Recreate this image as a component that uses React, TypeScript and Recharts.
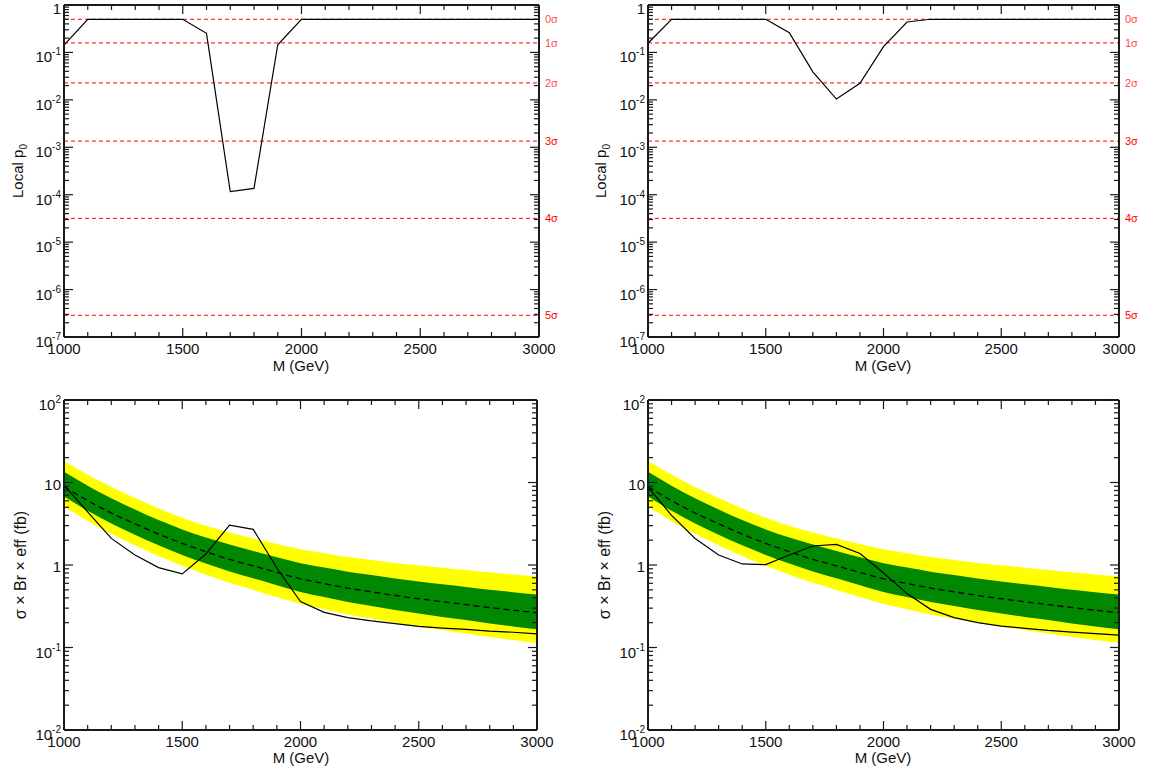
import React from 'react';
import { ComposedChart, Line, Area, XAxis, YAxis, ReferenceLine } from 'recharts';

// ---------- data ----------
const masses = [1000, 1100, 1200, 1300, 1400, 1500, 1600, 1700, 1800, 1900, 2000, 2100, 2200, 2300, 2400, 2500, 2600, 2700, 2800, 2900, 3000];

const p0Left = [0.143, 0.5, 0.5, 0.5, 0.5, 0.5, 0.253, 1.16e-4, 1.36e-4, 0.145, 0.5, 0.5, 0.5, 0.5, 0.5, 0.5, 0.5, 0.5, 0.5, 0.5, 0.5];
const p0Right = [0.156, 0.5, 0.5, 0.5, 0.5, 0.5, 0.261, 0.039, 0.0104, 0.0223, 0.132, 0.438, 0.5, 0.5, 0.5, 0.5, 0.5, 0.5, 0.5, 0.5, 0.5];

const expected = [8.89, 6.03, 4.27, 3.16, 2.37, 1.83, 1.45, 1.17, 0.977, 0.813, 0.681, 0.596, 0.525, 0.473, 0.427, 0.39, 0.359, 0.331, 0.305, 0.283, 0.264];
const green1Up = [13.46, 9.16, 6.45, 4.7, 3.5, 2.7, 2.15, 1.77, 1.48, 1.24, 1.05, 0.93, 0.83, 0.755, 0.687, 0.63, 0.584, 0.542, 0.502, 0.468, 0.439];
const green1Down = [6.75, 4.53, 3.18, 2.33, 1.73, 1.32, 1.04, 0.836, 0.689, 0.568, 0.471, 0.408, 0.356, 0.318, 0.284, 0.258, 0.235, 0.215, 0.196, 0.18, 0.167];
const yellow2Up = [18.2, 12.4, 8.8, 6.5, 4.85, 3.75, 3.0, 2.48, 2.1, 1.8, 1.55, 1.39, 1.25, 1.15, 1.06, 0.99, 0.928, 0.87, 0.816, 0.768, 0.728];
const yellow2Down = [5.12, 3.42, 2.38, 1.74, 1.29, 0.976, 0.76, 0.609, 0.499, 0.409, 0.337, 0.291, 0.252, 0.224, 0.199, 0.179, 0.163, 0.148, 0.134, 0.123, 0.113];

const observedLeft = [9.3, 4.4, 2.1, 1.32, 0.93, 0.78, 1.36, 3.05, 2.7, 0.92, 0.36, 0.267, 0.23, 0.21, 0.195, 0.18, 0.172, 0.166, 0.158, 0.153, 0.146];
const observedRight = [8.8, 4.0, 2.1, 1.32, 1.03, 1.01, 1.32, 1.7, 1.78, 1.38, 0.8, 0.45, 0.29, 0.23, 0.2, 0.182, 0.171, 0.161, 0.154, 0.147, 0.141];

const sigmaLevels = [0.5, 0.1587, 0.02275, 0.00135, 3.17e-5, 2.87e-7];
const sigmaLabels = ['0σ', '1σ', '2σ', '3σ', '4σ', '5σ'];

const xTicks = masses;
const xMajorStep = 500;
const topDecades = [-7, -6, -5, -4, -3, -2, -1, 0];
const bottomDecades = [-2, -1, 0, 1, 2];
const minorMult = [2, 3, 4, 5, 6, 7, 8, 9];

// ---------- helpers ----------
const FONT = '"Liberation Sans", Arial, Helvetica, sans-serif';
const AXIS = '#1a1a1a';

function logTicks(decades: number[]) {
  const t: number[] = [];
  decades.forEach((e, i) => {
    t.push(Number(`1e${e}`));
    if (i < decades.length - 1) minorMult.forEach((m) => t.push(Number(`${m}e${e}`)));
  });
  return t;
}
const topYTicks = logTicks(topDecades);
const bottomYTicks = logTicks(bottomDecades);

function YTick(props: any) {
  const { x, y, payload, side, labels } = props;
  const v = Number(payload.value);
  const e = Math.log10(v);
  const re = Math.round(e);
  const major = Math.abs(e - re) < 1e-6;
  const len = major ? 9 : 5;
  const dir = side === 'left' ? 1 : -1;
  return (
    <g>
      <line x1={x} x2={x + dir * len} y1={y} y2={y} stroke={AXIS} strokeWidth={1.2} />
      {labels && major && (re === 0 || re === 1 ? (
        <text x={x - 3} y={Math.max(y + 7, 14)} textAnchor="end" fontSize={15} fill="#111" fontFamily={FONT}>
          {re === 0 ? '1' : '10'}
        </text>
      ) : (
        <text x={x - 3} y={y + 10} textAnchor="end" fontSize={15} fill="#111" fontFamily={FONT}>
          10<tspan fontSize={10} dy={-7}>{String(re)}</tspan>
        </text>
      ))}
    </g>
  );
}

function XTick(props: any) {
  const { x, y, payload, side, labels } = props;
  const v = Number(payload.value);
  const major = v % xMajorStep === 0;
  const len = major ? 9 : 5;
  const dir = side === 'bottom' ? -1 : 1;
  return (
    <g>
      <line x1={x} x2={x} y1={y} y2={y + dir * len} stroke={AXIS} strokeWidth={1.2} />
      {labels && major && (
        <text x={x} y={y + 17} textAnchor="middle" fontSize={15} fill="#111" fontFamily={FONT}>
          {v}
        </text>
      )}
    </g>
  );
}

const axisLine = { stroke: AXIS, strokeWidth: 2 };

function Title(props: any) {
  const { x, y, rotate, children, size = 15 } = props;
  return (
    <div
      style={{
        position: 'absolute',
        left: x,
        top: y,
        transform: `translate(-50%,-50%)${rotate ? ' rotate(-90deg)' : ''}`,
        fontSize: size,
        fontFamily: FONT,
        whiteSpace: 'nowrap',
        lineHeight: 1,
        color: '#111',
      }}
    >
      {children}
    </div>
  );
}

function renderAxes(yDomain: [number, number], yTicks: number[], topH: number) {
  return [
    <XAxis
      key="xb"
      dataKey="m"
      type="number"
      domain={[1000, 3000]}
      ticks={xTicks}
      interval={0}
      height={30}
      tickSize={0}
      tickMargin={0}
      tickLine={false}
      axisLine={axisLine}
      tick={(p: any) => <XTick {...p} side="bottom" labels />}
    />,
    <XAxis
      key="xt"
      xAxisId="top"
      orientation="top"
      dataKey="m"
      type="number"
      domain={[1000, 3000]}
      ticks={xTicks}
      interval={0}
      height={topH}
      tickSize={0}
      tickMargin={0}
      tickLine={false}
      axisLine={axisLine}
      tick={(p: any) => <XTick {...p} side="top" />}
    />,
    <YAxis
      key="yl"
      scale="log"
      type="number"
      domain={yDomain}
      ticks={yTicks}
      interval={0}
      width={60}
      tickSize={0}
      tickMargin={0}
      tickLine={false}
      axisLine={axisLine}
      allowDataOverflow
      tick={(p: any) => <YTick {...p} side="left" labels />}
    />,
    <YAxis
      key="yr"
      yAxisId="right"
      orientation="right"
      scale="log"
      type="number"
      domain={yDomain}
      ticks={yTicks}
      interval={0}
      width={10}
      tickSize={0}
      tickMargin={0}
      tickLine={false}
      axisLine={axisLine}
      allowDataOverflow
      tick={(p: any) => <YTick {...p} side="right" />}
    />,
  ];
}

function P0Panel(props: { values: number[]; margin: any; width: number }) {
  const rows = masses.map((m, i) => ({ m, p: props.values[i] }));
  return (
    <ComposedChart width={props.width} height={385} data={rows} margin={props.margin}>
      {renderAxes([1e-7, 1], topYTicks, 5)}
      {sigmaLevels.map((s, i) => (
        <ReferenceLine
          key={i}
          y={s}
          stroke="#ff0000"
          strokeWidth={1}
          strokeDasharray="4 3"
          label={{ value: sigmaLabels[i], position: 'right', fill: i < 3 ? '#ff4a4a' : '#ff0000', fontSize: 11, offset: 6, fontFamily: FONT }}
        />
      ))}
      <Line dataKey="p" type="linear" stroke="#000" strokeWidth={1.2} dot={false} isAnimationActive={false} />
    </ComposedChart>
  );
}

function LimitPanel(props: { observed: number[]; margin: any; width: number }) {
  const rows = masses.map((m, i) => ({
    m,
    y2: [yellow2Down[i], yellow2Up[i]],
    g1: [green1Down[i], green1Up[i]],
    exp: expected[i],
    obs: props.observed[i],
  }));
  return (
    <ComposedChart width={props.width} height={386} data={rows} margin={props.margin}>
      {renderAxes([0.01, 100], bottomYTicks, 10)}
      <Area dataKey="y2" type="monotone" stroke="none" fill="#ffff00" fillOpacity={1} isAnimationActive={false} />
      <Area dataKey="g1" type="monotone" stroke="none" fill="#008800" fillOpacity={1} isAnimationActive={false} />
      <Line dataKey="exp" type="monotone" stroke="#000" strokeWidth={1.3} strokeDasharray="6 4" dot={false} isAnimationActive={false} />
      <Line dataKey="obs" type="linear" stroke="#000" strokeWidth={1.2} dot={false} isAnimationActive={false} />
    </ComposedChart>
  );
}

export default function App() {
  return (
    <div style={{ position: 'absolute', left: 0, top: 0, width: 1154, height: 771, background: '#fff', fontFamily: FONT }}>
      <div style={{ position: 'absolute', left: 0, top: 0 }}>
        <P0Panel values={p0Left} width={580} margin={{ top: 0, right: 31, bottom: 18, left: 4 }} />
      </div>
      <div style={{ position: 'absolute', left: 577, top: 0 }}>
        <P0Panel values={p0Right} width={577} margin={{ top: 0, right: 25, bottom: 18, left: 11 }} />
      </div>
      <div style={{ position: 'absolute', left: 0, top: 385 }}>
        <LimitPanel observed={observedLeft} width={580} margin={{ top: 5, right: 33, bottom: 11, left: 4 }} />
      </div>
      <div style={{ position: 'absolute', left: 577, top: 385 }}>
        <LimitPanel observed={observedRight} width={577} margin={{ top: 5, right: 25, bottom: 11, left: 11 }} />
      </div>

      <Title x={19} y={171} rotate>
        Local p<sub style={{ fontSize: 10 }}>0</sub>
      </Title>
      <Title x={602} y={171} rotate>
        Local p<sub style={{ fontSize: 10 }}>0</sub>
      </Title>
      <Title x={301} y={365}>M (GeV)</Title>
      <Title x={883} y={365}>M (GeV)</Title>

      <Title x={21} y={565} rotate size={16}>σ × Br × eff (fb)</Title>
      <Title x={605} y={565} rotate size={16}>σ × Br × eff (fb)</Title>
      <Title x={301} y={757}>M (GeV)</Title>
      <Title x={883} y={757}>M (GeV)</Title>
    </div>
  );
}
